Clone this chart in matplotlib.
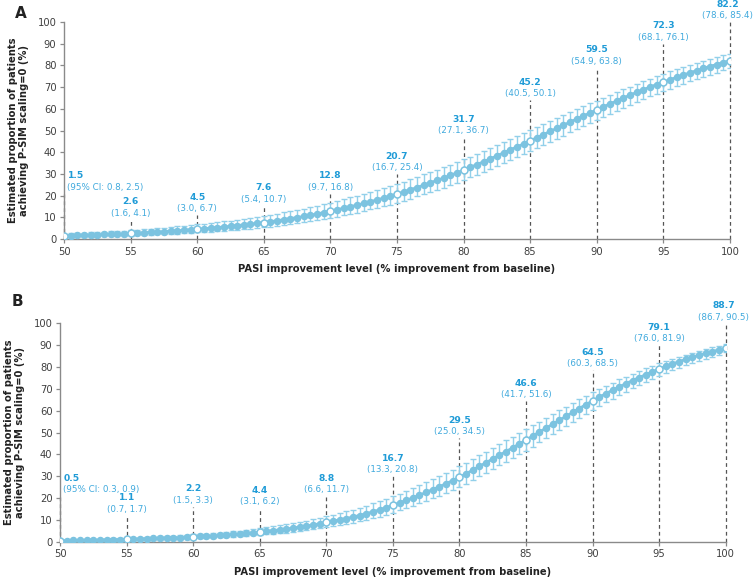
import numpy as np
import matplotlib
matplotlib.use('Agg')
import matplotlib.pyplot as plt

# PASI improvement levels, every 0.5 from 50 to 100
pasi = np.arange(50, 100.5, 0.5)
labelled = [50, 55, 60, 65, 70, 75, 80, 85, 90, 95, 100]

# Panel A: estimate and 95% CI
est_a = [1.5, 1.6, 1.7, 1.8, 1.9, 2.0, 2.1, 2.2, 2.3, 2.5,
         2.6, 2.7, 2.9, 3.1, 3.2, 3.4, 3.6, 3.8, 4.0, 4.3,
         4.5, 4.7, 5.0, 5.3, 5.5, 5.8, 6.2, 6.5, 6.8, 7.2,
         7.6, 8.0, 8.4, 8.9, 9.4, 9.9, 10.4, 11.0, 11.5, 12.2,
         12.8, 13.5, 14.2, 14.9, 15.6, 16.4, 17.2, 18.0, 18.9, 19.8,
         20.7, 21.7, 22.7, 23.7, 24.8, 25.9, 27.0, 28.1, 29.3, 30.5,
         31.7, 33.0, 34.3, 35.6, 36.9, 38.3, 39.7, 41.1, 42.4, 43.8,
         45.2, 46.7, 48.1, 49.6, 51.0, 52.4, 53.9, 55.3, 56.7, 58.1,
         59.5, 60.9, 62.3, 63.6, 65.0, 66.3, 67.6, 68.8, 70.0, 71.2,
         72.3, 73.4, 74.5, 75.6, 76.6, 77.6, 78.6, 79.5, 80.4, 81.3,
         82.2]
lo_a = [0.8, 0.9, 0.9, 1.0, 1.1, 1.1, 1.2, 1.3, 1.4, 1.5,
        1.6, 1.7, 1.8, 1.9, 2.1, 2.2, 2.3, 2.5, 2.6, 2.8,
        3.0, 3.2, 3.4, 3.6, 3.8, 4.0, 4.3, 4.5, 4.8, 5.1,
        5.4, 5.7, 6.1, 6.4, 6.8, 7.2, 7.7, 8.1, 8.6, 9.1,
        9.7, 10.3, 10.9, 11.5, 12.2, 12.9, 13.6, 14.3, 15.1, 15.9,
        16.7, 17.6, 18.6, 19.6, 20.6, 21.6, 22.6, 23.7, 24.8, 25.9,
        27.1, 28.4, 29.7, 31.0, 32.3, 33.6, 35.0, 36.3, 37.7, 39.1,
        40.5, 41.9, 43.4, 44.8, 46.3, 47.7, 49.2, 50.6, 52.0, 53.5,
        54.9, 56.3, 57.7, 59.1, 60.5, 61.9, 63.2, 64.5, 65.7, 66.9,
        68.1, 69.3, 70.4, 71.5, 72.6, 73.7, 74.7, 75.7, 76.7, 77.7,
        78.6]
hi_a = [2.5, 2.6, 2.8, 2.9, 3.0, 3.2, 3.4, 3.5, 3.7, 3.9,
        4.1, 4.3, 4.5, 4.7, 5.0, 5.2, 5.5, 5.8, 6.1, 6.4,
        6.7, 7.0, 7.4, 7.7, 8.1, 8.5, 8.9, 9.3, 9.7, 10.2,
        10.7, 11.2, 11.7, 12.3, 12.8, 13.4, 14.0, 14.7, 15.4, 16.1,
        16.8, 17.6, 18.4, 19.2, 20.0, 20.8, 21.7, 22.6, 23.5, 24.4,
        25.4, 26.5, 27.6, 28.7, 29.8, 30.9, 32.0, 33.1, 34.3, 35.5,
        36.7, 38.0, 39.3, 40.6, 42.0, 43.4, 44.7, 46.1, 47.4, 48.8,
        50.1, 51.5, 52.9, 54.3, 55.7, 57.0, 58.4, 59.8, 61.1, 62.5,
        63.8, 65.1, 66.4, 67.7, 69.0, 70.2, 71.4, 72.6, 73.8, 75.0,
        76.1, 77.2, 78.2, 79.2, 80.2, 81.1, 82.0, 82.9, 83.8, 84.6,
        85.4]

# Panel B: estimate and 95% CI
est_b = [0.5, 0.5, 0.6, 0.6, 0.7, 0.7, 0.8, 0.9, 0.9, 1.0,
         1.1, 1.2, 1.3, 1.4, 1.5, 1.6, 1.7, 1.8, 1.9, 2.1,
         2.2, 2.4, 2.5, 2.7, 2.9, 3.1, 3.3, 3.6, 3.8, 4.1,
         4.4, 4.7, 5.1, 5.4, 5.8, 6.2, 6.7, 7.1, 7.7, 8.2,
         8.8, 9.4, 10.0, 10.6, 11.3, 12.0, 12.8, 13.7, 14.6, 15.6,
         16.7, 17.8, 18.9, 20.1, 21.3, 22.6, 23.9, 25.2, 26.6, 28.0,
         29.5, 31.1, 32.8, 34.5, 36.2, 37.9, 39.6, 41.3, 43.0, 44.8,
         46.6, 48.4, 50.2, 52.0, 53.8, 55.6, 57.4, 59.2, 61.0, 62.8,
         64.5, 66.2, 67.8, 69.4, 70.9, 72.4, 73.8, 75.2, 76.5, 77.8,
         79.1, 80.3, 81.4, 82.5, 83.5, 84.5, 85.4, 86.3, 87.1, 87.9,
         88.7]
lo_b = [0.3, 0.3, 0.3, 0.4, 0.4, 0.4, 0.5, 0.5, 0.6, 0.6,
        0.7, 0.8, 0.8, 0.9, 0.9, 1.0, 1.1, 1.2, 1.3, 1.4,
        1.5, 1.6, 1.7, 1.9, 2.0, 2.2, 2.3, 2.5, 2.7, 2.9,
        3.1, 3.3, 3.6, 3.9, 4.2, 4.5, 4.9, 5.3, 5.7, 6.1,
        6.6, 7.1, 7.6, 8.1, 8.7, 9.3, 10.0, 10.7, 11.5, 12.4,
        13.3, 14.3, 15.3, 16.4, 17.5, 18.7, 19.9, 21.1, 22.4, 23.7,
        25.0, 26.6, 28.2, 29.9, 31.6, 33.3, 35.0, 36.7, 38.4, 40.1,
        41.7, 43.6, 45.5, 47.4, 49.3, 51.2, 53.1, 54.9, 56.7, 58.5,
        60.3, 62.1, 63.8, 65.5, 67.1, 68.7, 70.3, 71.8, 73.2, 74.6,
        76.0, 77.3, 78.5, 79.7, 80.8, 81.9, 82.9, 83.9, 84.8, 85.7,
        86.7]
hi_b = [0.9, 1.0, 1.0, 1.1, 1.2, 1.2, 1.3, 1.4, 1.5, 1.6,
        1.7, 1.8, 1.9, 2.1, 2.2, 2.4, 2.5, 2.7, 2.9, 3.1,
        3.3, 3.5, 3.7, 4.0, 4.2, 4.5, 4.8, 5.1, 5.5, 5.8,
        6.2, 6.6, 7.0, 7.5, 8.0, 8.5, 9.1, 9.7, 10.3, 11.0,
        11.7, 12.4, 13.1, 13.9, 14.7, 15.6, 16.5, 17.5, 18.5, 19.6,
        20.8, 22.0, 23.2, 24.5, 25.8, 27.2, 28.6, 30.0, 31.5, 33.0,
        34.5, 36.2, 37.9, 39.6, 41.3, 43.0, 44.7, 46.4, 48.1, 49.8,
        51.6, 53.3, 55.0, 56.7, 58.4, 60.1, 61.8, 63.5, 65.2, 66.9,
        68.5, 70.0, 71.5, 72.9, 74.3, 75.6, 76.9, 78.2, 79.5, 80.7,
        81.9, 82.9, 83.9, 84.8, 85.7, 86.6, 87.4, 88.2, 89.0, 89.8,
        90.5]

# top of the dashed guide line under each value label
guide_top_a = [21, 9, 11, 15.5, 21, 30, 47, 64, 79, 90, 100]
guide_top_b = [21, 12, 16, 15.5, 21, 30, 47.5, 64.5, 78.7, 90, 100]

MARK = '#7cc3e0'
ERR = '#92d0ea'
VAL = '#1f9bd7'
CI_COL = '#3fa9dd'
GREY = '#404040'

plt.rcParams['font.family'] = 'DejaVu Sans'

fig = plt.figure(figsize=(7.55, 5.78), dpi=100)


def draw_panel(ax, est, lo, hi, guide_top):
    est = np.array(est)
    lo = np.array(lo)
    hi = np.array(hi)
    yerr = [est - lo, hi - est]
    ax.errorbar(pasi, est, yerr=yerr, fmt='none', ecolor=ERR,
                elinewidth=1.0, capsize=2.2, capthick=1.0, zorder=2)
    ax.plot(pasi, est, '-', color=MARK, linewidth=2.0, zorder=3)
    ax.plot(pasi, est, 'o', color=MARK, markersize=4.4, zorder=4)

    for i, x in enumerate(labelled):
        k = int(round((x - 50) * 2))
        ax.plot([x], [est[k]], 'o', markerfacecolor='white',
                markeredgecolor=MARK, markersize=5.0, markeredgewidth=1.1,
                zorder=5)
        ax.plot([x, x], [0, guide_top[i]], linestyle=(0, (3, 2.5)),
                color='#555555', linewidth=0.9, zorder=1, clip_on=False)
        ci = f'({lo[k]:.1f}, {hi[k]:.1f})'
        if x == 50:
            ci = f'(95% CI: {lo[k]:.1f}, {hi[k]:.1f})'
            ha = 'left'
            xoff = 2.5
        elif x == 100:
            ha = 'center'
            xoff = -1.5
        else:
            ha = 'center'
            xoff = 0
        ax.annotate(ci, xy=(x, guide_top[i]), xytext=(xoff, 4.5),
                    textcoords='offset points', ha=ha, va='center',
                    fontsize=6.3, color=CI_COL, annotation_clip=False)
        ax.annotate(f'{est[k]:.1f}', xy=(x, guide_top[i]),
                    xytext=(xoff, 12.8), textcoords='offset points',
                    ha=ha, va='center', fontsize=6.6, fontweight='bold',
                    color=VAL, annotation_clip=False)

    ax.set_xlim(50, 100)
    ax.set_ylim(0, 100)
    ax.set_xticks(range(50, 101, 5))
    ax.set_yticks(range(0, 101, 10))
    for s in ['top', 'right']:
        ax.spines[s].set_visible(False)
    for s in ['left', 'bottom']:
        ax.spines[s].set_color('#8a8a8a')
        ax.spines[s].set_linewidth(1.0)
    ax.tick_params(colors='#8a8a8a', labelcolor=GREY, labelsize=7.2,
                   length=3, width=0.9, pad=2.5)
    ax.set_xlabel('PASI improvement level (% improvement from baseline)',
                  fontsize=7.2, fontweight='bold', color='#222222',
                  labelpad=5.5)
    ax.set_ylabel('Estimated proportion of patients\n'
                  'achieving P-SIM scaling=0 (%)',
                  fontsize=7.2, fontweight='bold', color='#222222',
                  labelpad=6)


ax_a = fig.add_axes([0.0848, 0.5865, 0.882, 0.3754])
draw_panel(ax_a, est_a, lo_a, hi_a, guide_top_a)

ax_b = fig.add_axes([0.0795, 0.0628, 0.8817, 0.3777])
draw_panel(ax_b, est_b, lo_b, hi_b, guide_top_b)

fig.text(15 / 755, 1 - 14 / 578, 'A', fontsize=11, fontweight='bold',
         color='#222222', ha='left', va='center')
fig.text(12 / 755, 1 - 301 / 578, 'B', fontsize=11, fontweight='bold',
         color='#222222', ha='left', va='center')

fig.savefig('out.png', dpi=100)
